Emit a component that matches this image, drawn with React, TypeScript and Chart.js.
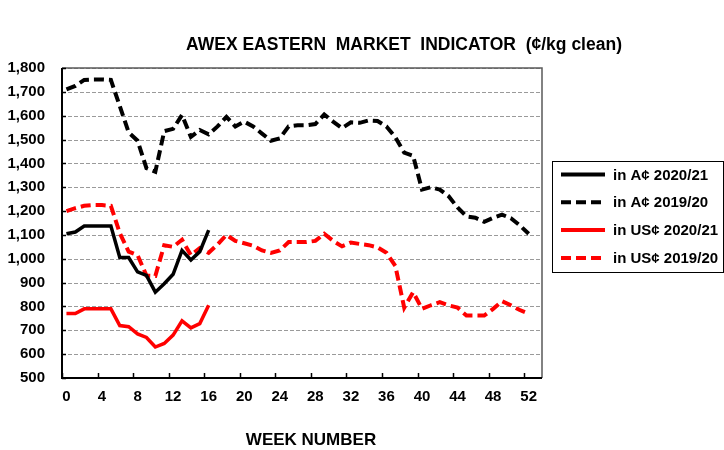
import React, { useEffect, useRef } from "react";
import { Chart, registerables } from "chart.js";

Chart.register(...registerables);

// ---- data ----
const WEEKS_1920 = [
  0, 1, 2, 3, 4, 5, 6, 7, 8, 9, 10, 11, 12, 13, 14, 15, 16, 17, 18, 19, 20,
  21, 22, 23, 24, 25, 26, 27, 28, 29, 30, 31, 32, 33, 34, 35, 36, 37, 38, 39,
  40, 41, 42, 43, 44, 45, 46, 47, 48, 49, 50, 51, 52,
];
const WEEKS_2021 = [0, 1, 2, 3, 4, 5, 6, 7, 8, 9, 10, 11, 12, 13, 14, 15, 16];

const A_2021 = [
  1105, 1112, 1137, 1137, 1137, 1137, 1005, 1005, 945, 930, 860, 895, 935,
  1035, 995, 1030, 1120,
];
const A_1920 = [
  1710, 1725, 1750, 1752, 1752, 1750, 1640, 1530, 1495, 1380, 1365, 1535,
  1545, 1603, 1511, 1540, 1522, 1555, 1595, 1555, 1575, 1555, 1525, 1495,
  1505, 1555, 1560, 1560, 1565, 1605, 1575, 1548, 1572, 1570, 1580, 1578,
  1555, 1510, 1445, 1432, 1290, 1300, 1290, 1262, 1215, 1178, 1172, 1155,
  1172, 1185, 1170, 1140, 1105,
];
const US_2021 = [
  770, 770, 790, 790, 790, 790, 720, 715, 685, 670, 630, 645, 680, 740, 710,
  728, 805,
];
const US_1920 = [
  1200, 1212, 1222, 1225, 1225, 1222, 1108, 1030, 1015, 930, 928, 1057, 1050,
  1080, 1015, 1045, 1025, 1060, 1100, 1075, 1065, 1055, 1035, 1025, 1035,
  1070, 1070, 1070, 1075, 1105, 1075, 1052, 1068, 1062, 1057, 1048, 1025, 970,
  795, 860, 790, 805, 818, 805, 795, 762, 762, 762, 790, 822, 805, 785, 770,
];

const X_TICKS = [0, 4, 8, 12, 16, 20, 24, 28, 32, 36, 40, 44, 48, 52];
const Y_MIN = 500;
const Y_MAX = 1800;
const Y_STEP = 100;

const SERIES_LABELS = [
  "in A\u00a2 2020/21",
  "in A\u00a2 2019/20",
  "in US\u00a2 2020/21",
  "in US\u00a2 2019/20",
];
const TITLE = "AWEX EASTERN  MARKET  INDICATOR  (\u00a2/kg clean)";
const X_TITLE = "WEEK NUMBER";

const FONT = '"Liberation Sans", Arial, Helvetica, sans-serif';

const toPoints = (xs: number[], ys: number[]) =>
  ys.map((v, i) => ({ x: xs[i], y: v }));

const gridPlugin = {
  id: "dashgrid",
  beforeDatasetsDraw(chart: any) {
    const { ctx, chartArea: ca, scales } = chart;
    const ys = scales.y;
    ctx.save();
    ctx.strokeStyle = "#9a9a9a";
    ctx.lineWidth = 1;
    ctx.setLineDash([4, 2]);
    ys.ticks.forEach((t: any) => {
      const py = Math.round(ys.getPixelForValue(t.value)) + 0.5;
      ctx.beginPath();
      ctx.moveTo(ca.left, py);
      ctx.lineTo(ca.right, py);
      ctx.stroke();
    });
    ctx.restore();
  },
};

const decorPlugin = {
  id: "decor",
  afterDraw(chart: any) {
    const { ctx, chartArea: ca, scales } = chart;
    const xs = scales.x;
    const ys = scales.y;
    ctx.save();

    // top & right frame
    ctx.strokeStyle = "#5a5a5a";
    ctx.lineWidth = 1.5;
    ctx.setLineDash([]);
    ctx.beginPath();
    ctx.moveTo(ca.left, ca.top);
    ctx.lineTo(ca.right, ca.top);
    ctx.lineTo(ca.right, ca.bottom);
    ctx.stroke();

    // left & bottom axis lines
    ctx.strokeStyle = "#000";
    ctx.lineWidth = 2;
    ctx.beginPath();
    ctx.moveTo(ca.left, ca.top);
    ctx.lineTo(ca.left, ca.bottom);
    ctx.lineTo(ca.right, ca.bottom);
    ctx.stroke();

    // inner tick marks
    ctx.lineWidth = 1.5;
    ctx.beginPath();
    X_TICKS.forEach((v) => {
      const px = Math.round(xs.getPixelForValue(v - 0.5)) + 0.5;
      ctx.moveTo(px, ca.bottom);
      ctx.lineTo(px, ca.bottom - 5);
    });
    ys.ticks.forEach((t: any) => {
      const py = Math.round(ys.getPixelForValue(t.value)) + 0.5;
      ctx.moveTo(ca.left, py);
      ctx.lineTo(ca.left + 4, py);
    });
    ctx.stroke();

    // title
    ctx.fillStyle = "#000";
    ctx.textAlign = "center";
    ctx.textBaseline = "middle";
    ctx.font = `bold 17.5px ${FONT}`;
    ctx.fillText(TITLE, 404, 45);

    // x axis title
    ctx.font = `bold 17px ${FONT}`;
    ctx.fillText(X_TITLE, 311, 440);

    // legend
    const lx = 552.5;
    const ly = 161.5;
    const lw = 171;
    const lh = 111;
    ctx.strokeStyle = "#000";
    ctx.lineWidth = 1;
    ctx.strokeRect(lx, ly, lw, lh);
    ctx.font = `bold 15px ${FONT}`;
    ctx.textAlign = "left";
    chart.data.datasets.forEach((ds: any, i: number) => {
      const cy = 174.5 + i * 27.8;
      ctx.save();
      ctx.strokeStyle = ds.borderColor;
      ctx.lineWidth = 4;
      ctx.setLineDash(ds.borderDash || []);
      ctx.beginPath();
      ctx.moveTo(561, cy);
      ctx.lineTo(605, cy);
      ctx.stroke();
      ctx.restore();
      ctx.fillStyle = "#000";
      ctx.fillText(ds.label, 613, cy + 1);
    });

    ctx.restore();
  },
};

export default function App() {
  const ref = useRef<HTMLCanvasElement | null>(null);

  useEffect(() => {
    if (!ref.current) return;
    const dash = [10, 5];
    const chart = new Chart(ref.current, {
      type: "line",
      data: {
        datasets: [
          {
            label: SERIES_LABELS[0],
            data: toPoints(WEEKS_2021, A_2021),
            borderColor: "#000000",
            borderWidth: 3.5,
            pointRadius: 0,
            tension: 0,
          },
          {
            label: SERIES_LABELS[1],
            data: toPoints(WEEKS_1920, A_1920),
            borderColor: "#000000",
            borderWidth: 4,
            borderDash: dash,
            pointRadius: 0,
            tension: 0,
          },
          {
            label: SERIES_LABELS[2],
            data: toPoints(WEEKS_2021, US_2021),
            borderColor: "#ff0000",
            borderWidth: 3.5,
            pointRadius: 0,
            tension: 0,
          },
          {
            label: SERIES_LABELS[3],
            data: toPoints(WEEKS_1920, US_1920),
            borderColor: "#ff0000",
            borderWidth: 4,
            borderDash: dash,
            pointRadius: 0,
            tension: 0,
          },
        ],
      },
      options: {
        responsive: false,
        animation: false,
        layout: { padding: { left: 0, top: 68, right: 182, bottom: 0 } },
        plugins: {
          legend: { display: false },
          title: { display: false },
          tooltip: { enabled: false },
        },
        scales: {
          x: {
            type: "linear",
            min: -0.5,
            max: 53.5,
            afterBuildTicks: (scale: any) => {
              scale.ticks = X_TICKS.map((v) => ({ value: v }));
            },
            afterFit: (scale: any) => {
              scale.height = 72;
            },
            grid: { display: false, drawTicks: false },
            border: { display: false },
            ticks: {
              autoSkip: false,
              maxRotation: 0,
              padding: 10,
              color: "#000",
              font: { family: FONT, size: 15, weight: "bold" },
              callback: (v: any) => String(v),
            },
          },
          y: {
            min: Y_MIN,
            max: Y_MAX,
            afterFit: (scale: any) => {
              scale.width = 62;
            },
            grid: { display: false, drawTicks: false },
            border: { display: false },
            ticks: {
              stepSize: Y_STEP,
              padding: 17,
              color: "#000",
              font: { family: FONT, size: 15, weight: "bold" },
              callback: (v: any) => Number(v).toLocaleString("en-US"),
            },
          },
        },
      },
      plugins: [gridPlugin, decorPlugin],
    } as any);
    return () => chart.destroy();
  }, []);

  return (
    <div
      style={{
        position: "absolute",
        left: 0,
        top: 0,
        width: 724,
        height: 450,
        background: "#fff",
      }}
    >
      <canvas ref={ref} width={724} height={450} style={{ display: "block" }} />
    </div>
  );
}
